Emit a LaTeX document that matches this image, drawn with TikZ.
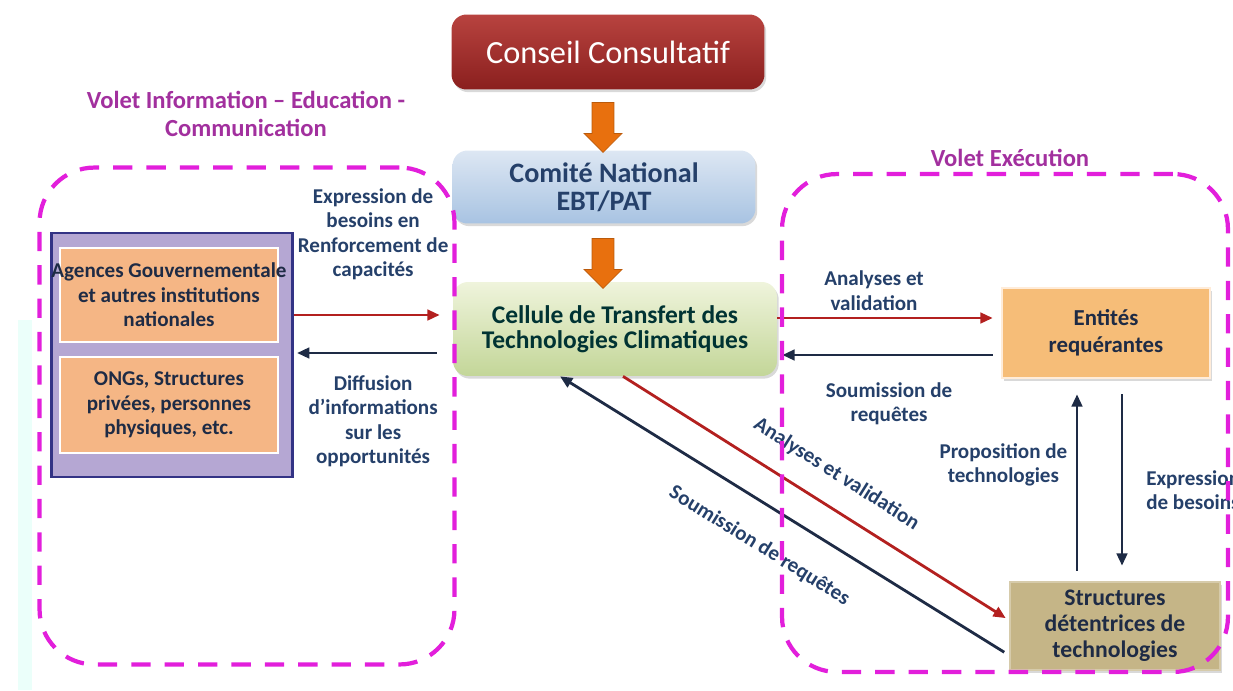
\documentclass[tikz,border=0pt]{standalone}
\usepackage{fontspec}
\setmainfont{Carlito}
\usetikzlibrary{arrows.meta,shapes.arrows,shadows,positioning}

\definecolor{voletmagenta}{HTML}{E21FDB}
\definecolor{volettext}{HTML}{A2309E}
\definecolor{labelblue}{HTML}{25406A}
\definecolor{arrowred}{HTML}{B3201F}
\definecolor{arrownavy}{HTML}{1E2B45}
\definecolor{orangebox}{HTML}{F5B685}
\definecolor{khakibox}{HTML}{C5B587}
\definecolor{lavender}{HTML}{B5A7D3}
\definecolor{blockorange}{HTML}{E8700E}
\definecolor{comitetop}{HTML}{DDE7F3}
\definecolor{comitebottom}{HTML}{A8C3E2}
\definecolor{celluletop}{HTML}{EFF4DC}
\definecolor{cellulebottom}{HTML}{C3D698}
\definecolor{conseiltop}{HTML}{B8433F}
\definecolor{conseilbottom}{HTML}{8A1F1E}

\begin{document}
\begin{tikzpicture}[
  x=0.02cm, y=-0.02cm,
  font=\bfseries,
  every node/.style={align=center},
  volet/.style={draw=voletmagenta, line width=2.4pt, dash pattern=on 11pt off 8pt, rounded corners=1.1cm},
  volet-title/.style={text=volettext, font=\bfseries\fontsize{14}{16}\selectfont},
  shadowed/.style={drop shadow={opacity=0.3, shadow xshift=1pt, shadow yshift=-1.5pt}},
  topbox/.style={rounded corners=0.3cm, shadowed},
  flowarrow/.style={single arrow, shape border rotate=270, fill=blockorange, draw=blockorange!80!black,
    minimum height=1cm, minimum width=0.76cm, single arrow head extend=0.1cm, inner sep=0.13cm},
  entity/.style={fill=orangebox, draw=white, line width=1.5pt, text=arrownavy,
    font=\bfseries\fontsize{12}{14}\selectfont},
  label/.style={text=labelblue, font=\bfseries\fontsize{12}{14}\selectfont},
  redarrow/.style={draw=arrowred, line width=1.6pt, -{Triangle[length=7pt,width=6pt]}},
  navyarrow/.style={draw=arrownavy, line width=1.6pt, -{Triangle[length=7pt,width=6pt]}}]

  \useasboundingbox (0,0) rectangle (1233,690);
  \clip (0,0) rectangle (1233,690);
  \fill[green!25!cyan!8] (18,320) rectangle (32,690);

  % central column
  \node[topbox, top color=conseiltop, bottom color=conseilbottom, text=white,
    font=\fontsize{18.4}{20}\selectfont, minimum width=6.26cm, minimum height=1.5cm]
    (conseil) at (608,52) {Conseil Consultatif};
  \node[topbox, top color=comitetop, bottom color=comitebottom, text=labelblue,
    font=\bfseries\fontsize{16}{16}\selectfont, minimum width=6.06cm, minimum height=1.46cm]
    (comite) at (604,187) {Comité National\\EBT/PAT};
  \node[topbox, top color=celluletop, bottom color=cellulebottom, text=teal!40!black,
    font=\bfseries\fontsize{14.5}{14.5}\selectfont, minimum width=6.48cm, minimum height=1.88cm]
    (cellule) at (615,329) {Cellule de Transfert des\\Technologies Climatiques};
  \node[flowarrow] (arrowa) at (603,122) {};
  \node[flowarrow] (arrowb) at (603,258) {};

  % left group
  \node[fill=lavender, draw=blue!40!black!80, line width=1.2pt, minimum width=4.82cm, minimum height=4.88cm]
    (frame) at (172,355) {};
  \node[entity, minimum width=4.36cm, minimum height=1.88cm] (agences) at (169,295)
    {\makebox[0pt]{Agences Gouvernementale}\\et autres institutions\\nationales};
  \node[entity, minimum width=4.36cm, minimum height=1.92cm] (ongs) at (169,405)
    {ONGs, Structures\\privées, personnes\\physiques, etc.};

  % right group
  \node[entity, shadowed, fill=orangebox!90!yellow, draw=orange!15, font=\bfseries\fontsize{13}{15.3}\selectfont,
    minimum width=4.16cm, minimum height=1.8cm] (entites) at (1106,333) {Entités\\requérantes};
  \node[entity, shadowed, fill=khakibox, draw=khakibox!70, font=\bfseries\fontsize{13.5}{14.7}\selectfont,
    minimum width=4.2cm, minimum height=1.76cm] (structures) at (1115,626) {Structures\\détentrices de\\technologies};

  % connectors
  \draw[redarrow, shorten >=0.26cm] ([yshift=0.8cm]frame.east) --
    node[label, midway, above=0.55cm] {Expression de\\besoins en\\Renforcement de\\capacités}
    ([yshift=0.8cm]frame.east -| cellule.west);
  \draw[navyarrow, shorten <=0.32cm, shorten >=2pt] ([yshift=-0.48cm]cellule.west) --
    node[label, midway, below=0.3cm] {Diffusion\\d’informations\\sur les\\opportunités}
    ([yshift=-0.48cm]cellule.west -| frame.east);
  \draw[redarrow, shorten >=0.16cm] ([yshift=0.22cm]cellule.east) --
    node[label, midway, above=0cm, xshift=-0.3cm] {Analyses et\\validation}
    ([yshift=0.22cm]cellule.east -| entites.west);
  \draw[navyarrow, shorten <=0.16cm, shorten >=0.1cm] ([yshift=-0.44cm]entites.west) --
    node[label, midway, below=0.4cm] {Soumission de\\requêtes}
    ([yshift=-0.44cm]entites.west -| cellule.east);
  \draw[navyarrow, shorten <=0.2cm, shorten >=0.3cm] ([xshift=-0.76cm]structures.north) --
    node[label, midway, left=0.05cm, yshift=0.3cm] {Proposition de\\technologies}
    ([xshift=-0.76cm]structures.north |- entites.south);
  \draw[navyarrow, shorten <=0.3cm, shorten >=0.3cm] ([xshift=0.32cm]entites.south) --
    node[label, midway, right=0.34cm, yshift=-0.2cm, align=left] {Expression\\de besoins}
    ([xshift=0.32cm]entites.south |- structures.north);
  \draw[redarrow, shorten >=2pt] ([xshift=0.16cm]cellule.south) --
    node[label, pos=0.51, sloped, above=0.3cm] {Analyses et validation}
    ([yshift=0.12cm]structures.west);
  \draw[navyarrow, shorten <=3pt] ([yshift=-0.58cm]structures.west) --
    node[label, pos=0.51, sloped, below=0.45cm] {Soumission de requêtes}
    ([xshift=-1.1cm]cellule.south);

  % zones
  \node[volet, minimum width=8.3cm, minimum height=9.94cm] (iec) at (247,416) {};
  \node[volet, minimum width=8.92cm, minimum height=9.96cm] (execution) at (1005,423) {};
  \node[volet-title] (ieclabel) at (246,114) {Volet Information – Education -\\Communication};
  \node[volet-title] (exelabel) at (1010,158) {Volet Exécution};

\end{tikzpicture}
\end{document}
